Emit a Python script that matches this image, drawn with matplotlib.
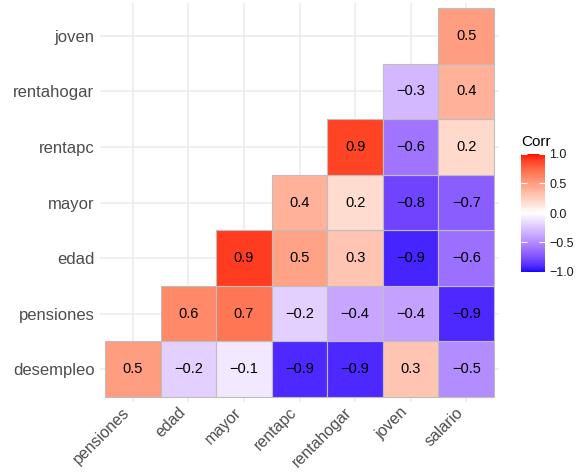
import numpy as np
import matplotlib
matplotlib.use("Agg")
import matplotlib.pyplot as plt
from matplotlib.colors import ListedColormap, Normalize
from matplotlib.patches import Rectangle
from matplotlib.colorbar import ColorbarBase

# --- datos: triangulo inferior de la matriz de correlacion ---
x_vars = ["pensiones", "edad", "mayor", "rentapc", "rentahogar", "joven", "salario"]
y_vars = ["desempleo", "pensiones", "edad", "mayor", "rentapc", "rentahogar", "joven"]

# una fila por variable de y_vars, columnas desde x_vars[fila] en adelante
corr_rows = [
    [0.50, -0.20, -0.10, -0.90, -0.90, 0.30, -0.50],   # desempleo
    [0.60, 0.68, -0.20, -0.38, -0.40, -0.90],          # pensiones
    [0.90, 0.48, 0.30, -0.92, -0.62],                  # edad
    [0.40, 0.18, -0.80, -0.70],                        # mayor
    [0.88, -0.60, 0.20],                               # rentapc
    [-0.30, 0.40],                                     # rentahogar
    [0.50],                                            # joven
]
legend_ticks = [-1.0, -0.5, 0.0, 0.5, 1.0]


# --- paleta divergente azul-blanco-rojo interpolada en Lab (como ggplot2) ---
def srgb_to_lab(rgb):
    rgb = np.asarray(rgb, dtype=float)
    lin = np.where(rgb <= 0.04045, rgb / 12.92, ((rgb + 0.055) / 1.055) ** 2.4)
    M = np.array([[0.4124, 0.3576, 0.1805],
                  [0.2126, 0.7152, 0.0722],
                  [0.0193, 0.1192, 0.9505]])
    xyz = lin @ M.T / np.array([0.95047, 1.0, 1.08883])
    f = np.where(xyz > 216 / 24389, np.cbrt(xyz), (24389 / 27 * xyz + 16) / 116)
    L = 116 * f[..., 1] - 16
    a = 500 * (f[..., 0] - f[..., 1])
    b = 200 * (f[..., 1] - f[..., 2])
    return np.stack([L, a, b], axis=-1)


def lab_to_srgb(lab):
    L, a, b = lab[..., 0], lab[..., 1], lab[..., 2]
    fy = (L + 16) / 116
    fx = fy + a / 500
    fz = fy - b / 200
    f = np.stack([fx, fy, fz], axis=-1)
    xyz = np.where(f ** 3 > 216 / 24389, f ** 3, (116 * f - 16) / (24389 / 27))
    xyz = xyz * np.array([0.95047, 1.0, 1.08883])
    Minv = np.array([[3.2406, -1.5372, -0.4986],
                     [-0.9689, 1.8758, 0.0415],
                     [0.0557, -0.2040, 1.0570]])
    lin = xyz @ Minv.T
    lin = np.clip(lin, 0, 1)
    rgb = np.where(lin <= 0.0031308, 12.92 * lin, 1.055 * lin ** (1 / 2.4) - 0.055)
    return np.clip(rgb, 0, 1)


lab_low = srgb_to_lab([0, 0, 1])
lab_mid = srgb_to_lab([1, 1, 1])
lab_high = srgb_to_lab([1, 0, 0])
t = np.linspace(-1, 1, 256)
labs = np.array([lab_mid + (lab_low - lab_mid) * (-v) if v < 0 else lab_mid + (lab_high - lab_mid) * v
                 for v in t])
cmap = ListedColormap(lab_to_srgb(labs))
norm = Normalize(-1, 1)

plt.rcParams["font.family"] = ["Liberation Sans", "DejaVu Sans"]

fig = plt.figure(figsize=(5.77, 4.73), dpi=100)
ax = fig.add_axes([100 / 577, 1 - 402 / 473, 399 / 577, 399 / 473])

n = len(x_vars)
for i, row in enumerate(corr_rows):
    for k, v in enumerate(row):
        j = i + k
        ax.add_patch(Rectangle((j - 0.5, i - 0.5), 1, 1, facecolor=cmap(norm(v)),
                               edgecolor="#BEBEBE", linewidth=0.8, zorder=2))
        ax.text(j, i, f"{v:.1f}".replace("-", "\u2212"), ha="center", va="center",
                fontsize=10.5, color="black", zorder=3)

ax.set_xlim(-0.59, n - 0.41)
ax.set_ylim(-0.59, n - 0.41)
ax.set_aspect("equal")
ax.set_xticks(range(n))
ax.set_yticks(range(n))
ax.set_xticklabels(x_vars, rotation=45, ha="right", va="top")
ax.set_yticklabels(y_vars)
ax.tick_params(length=0, colors="#4D4D4D")
ax.tick_params(axis="y", labelsize=12, pad=4)
ax.tick_params(axis="x", labelsize=11.5, pad=2)
ax.grid(True, color="#EBEBEB", linewidth=1.1, zorder=0)
ax.set_axisbelow(True)
for s in ax.spines.values():
    s.set_visible(False)

# --- leyenda de color ---
cax = fig.add_axes([521 / 577, 1 - 272 / 473, 24 / 577, 118 / 473])
cb = ColorbarBase(cax, cmap=cmap, norm=norm, ticks=legend_ticks)
cb.outline.set_visible(False)
cb.ax.set_yticklabels([f"{v:.1f}".replace("-", "\u2212") for v in legend_ticks])
cax.tick_params(axis="y", length=4, width=0.8, color="white", direction="in",
                labelsize=9, labelcolor="#1A1A1A", pad=3)
cax.tick_params(axis="y", which="both", left=True, right=True)
fig.text(521 / 577, 1 - 142 / 473, "Corr", fontsize=11, ha="left", va="center", color="black")

fig.savefig("out.png", dpi=100)
